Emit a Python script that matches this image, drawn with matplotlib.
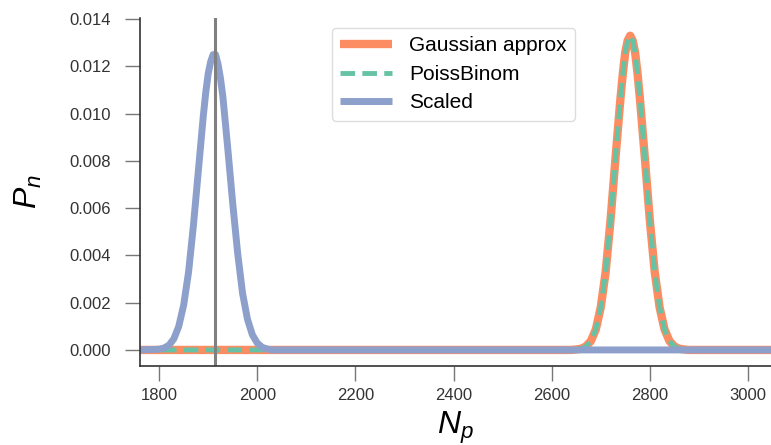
import matplotlib

matplotlib.use("Agg")
import matplotlib.pyplot as plt

plt.rcParams["font.family"] = ["Liberation Sans", "DejaVu Sans"]
plt.rcParams["mathtext.fontset"] = "custom"
plt.rcParams["mathtext.it"] = "Liberation Sans:italic"
plt.rcParams["mathtext.rm"] = "Liberation Sans"

# values (N_p vs P_n)
gauss_x = [1761, 2640, 2650, 2660, 2670, 2680, 2690, 2700, 2710, 2720, 2730, 2740, 2745,
           2750, 2755, 2760, 2765, 2770, 2775, 2780, 2790, 2800, 2810, 2820, 2830, 2840,
           2850, 2860, 2870, 2880, 3047]
gauss_p = [0.0, 0.0, 0.00002, 0.00005, 0.00015, 0.00038, 0.00087, 0.0018, 0.0033, 0.0055,
           0.0081, 0.0106, 0.0117, 0.0126, 0.0131, 0.0133, 0.0131, 0.0126, 0.0117, 0.0106,
           0.0081, 0.0055, 0.0033, 0.0018, 0.00087, 0.00038, 0.00015, 0.00005, 0.00002,
           0.0, 0.0]

poiss_x = gauss_x
poiss_p = gauss_p

scaled_x = [1761, 1800, 1810, 1820, 1830, 1840, 1850, 1860, 1870, 1880, 1890, 1895, 1900,
            1905, 1910, 1915, 1920, 1925, 1930, 1940, 1950, 1960, 1970, 1980, 1990, 2000,
            2010, 2020, 2030, 3047]
scaled_p = [0.0, 0.00003, 0.00008, 0.0002, 0.00047, 0.0010, 0.0019, 0.0033, 0.0053, 0.0076,
            0.0099, 0.0109, 0.0117, 0.0122, 0.0125, 0.0125, 0.0121, 0.0115, 0.0107, 0.0085,
            0.0062, 0.0041, 0.0024, 0.0013, 0.00064, 0.00029, 0.00011, 0.00004, 0.0, 0.0]

vline_x = 1914

fig = plt.figure(figsize=(7.71, 4.45), dpi=100)
ax = fig.add_axes([140 / 771, 1 - 366 / 445, 1 - 140 / 771, 348 / 445])

ax.plot(gauss_x, gauss_p, color="#fc8d62", lw=6, label="Gaussian approx",
        solid_capstyle="butt", solid_joinstyle="round")
ax.plot(poiss_x, poiss_p, color="#66c2a5", lw=3.5, dashes=(3.0, 1.5), label="PoissBinom",
        dash_joinstyle="round")
ax.plot(scaled_x, scaled_p, color="#8da0cb", lw=5, label="Scaled",
        solid_capstyle="butt", solid_joinstyle="round")
ax.axvline(vline_x, color="#808080", lw=2.2)

ax.set_xlim(1761, 3047)
ax.set_ylim(-0.00068, 0.01405)
ax.set_xticks([1800, 2000, 2200, 2400, 2600, 2800, 3000])
ax.set_yticks([0.0, 0.002, 0.004, 0.006, 0.008, 0.010, 0.012, 0.014])
ax.set_yticklabels(["0.000", "0.002", "0.004", "0.006", "0.008", "0.010", "0.012", "0.014"])

for side in ("top", "right"):
    ax.spines[side].set_visible(False)
for side in ("left", "bottom"):
    ax.spines[side].set_color("#333333")
    ax.spines[side].set_linewidth(1.2)
ax.tick_params(axis="both", direction="out", length=11, width=1, color="#777777",
               labelsize=12, labelcolor="#333333")
ax.tick_params(axis="y", pad=10)
ax.tick_params(axis="x", pad=5)

ax.set_xlabel("$N_p$", fontsize=23, labelpad=5)
ax.set_ylabel("$P_n$", fontsize=23, labelpad=18)

leg = ax.legend(loc="upper left", bbox_to_anchor=(0.304, 0.971), borderaxespad=0,
                fontsize=15, handlelength=2.5, frameon=True, fancybox=True,
                edgecolor="#dddddd", framealpha=1, labelspacing=0.45)

fig.savefig("out.png", dpi=100)
